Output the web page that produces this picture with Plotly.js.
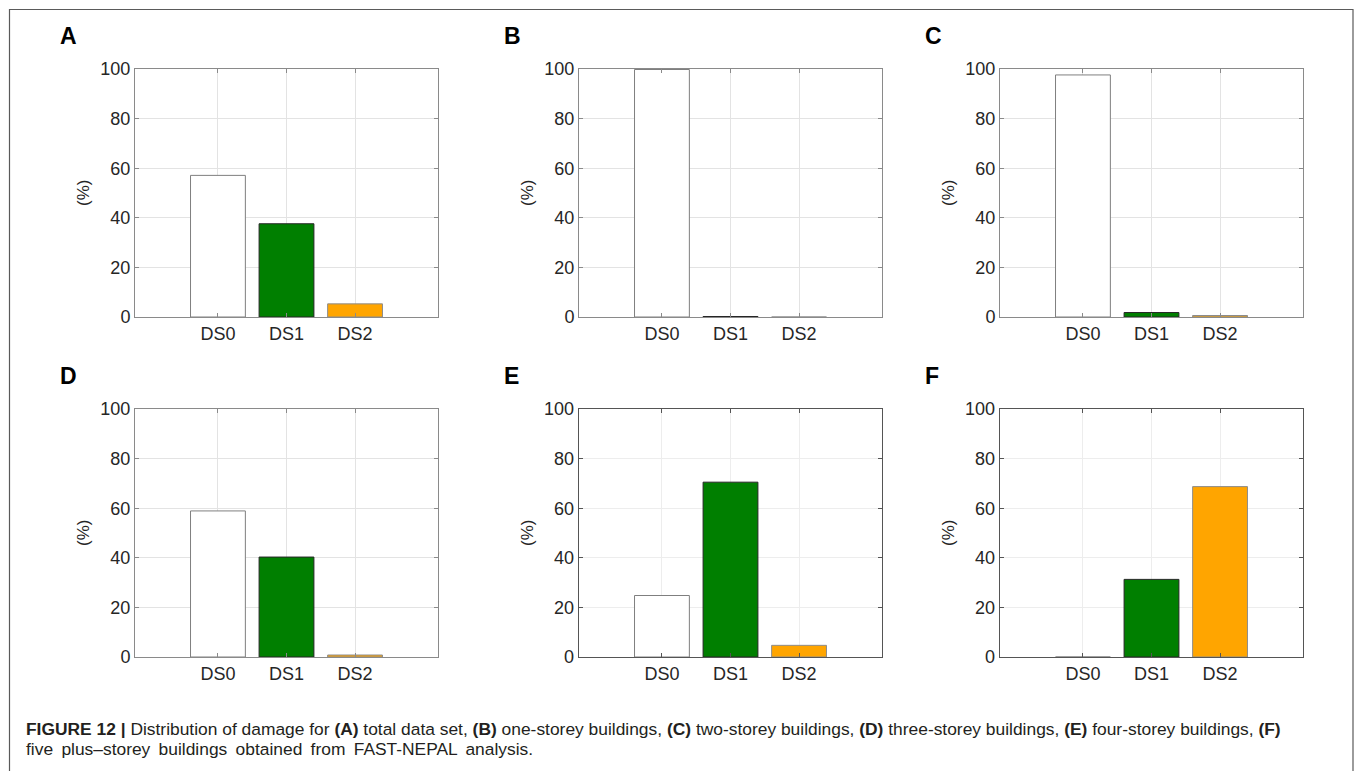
<!DOCTYPE html>
<html>
<head>
<meta charset="utf-8">
<script src="https://cdn.plot.ly/plotly-3.0.1.min.js"></script>
<style>
  html, body { margin: 0; padding: 0; background: #ffffff; }
  #chart { width: 1355px; height: 771px; }
</style>
</head>
<body>
<div id="chart"></div>
<script>
// Damage-state categories and share of buildings (%) per group
const categories = ['DS0', 'DS1', 'DS2'];
const panelLetters = ['A', 'B', 'C', 'D', 'E', 'F'];
const totalData      = [57.1, 37.6, 5.3];
const oneStorey      = [99.8, 0.2, 0.0];
const twoStorey      = [97.6, 1.8, 0.6];
const threeStorey    = [58.9, 40.3, 0.8];
const fourStorey     = [24.8, 70.5, 4.7];
const fivePlusStorey = [0.0, 31.3, 68.7];
const yTicks = [0, 20, 40, 60, 80, 100];
const yTitle = '(%)';

const panelValues = [totalData, oneStorey, twoStorey, threeStorey, fourStorey, fivePlusStorey];

// Styling
const barColors  = ['#ffffff', '#007f00', '#ffa500'];
const edgeColors = ['#7f7f7f', '#262626', '#8c8c8c'];
const W = 1355, H = 771;
const colLeft = [135, 579, 1000];
const rowTop = [69, 409];
const plotW = 303, plotH = 248;
const fontFamily = '"Liberation Sans", Arial, Helvetica, sans-serif';
const textColor = '#262626';

const px = x => x / W;
const py = y => 1 - y / H;

const traces = [];
const layout = {
  width: W, height: H,
  margin: { l: 0, r: 0, t: 0, b: 0 },
  paper_bgcolor: '#ffffff',
  plot_bgcolor: '#ffffff',
  showlegend: false,
  font: { family: fontFamily, color: textColor },
  annotations: [],
  shapes: [
    // outer figure frame (open at the bottom)
    { type: 'path', xref: 'paper', yref: 'paper',
      path: `M ${px(9.5)} ${py(780)} L ${px(9.5)} ${py(9.5)} L ${px(1353)} ${py(9.5)} L ${px(1353)} ${py(780)}`,
      line: { color: '#5a5a5a', width: 1.2 } }
  ]
};

panelValues.forEach((vals, i) => {
  const row = Math.floor(i / 3), col = i % 3;
  const n = i + 1;
  const xa = n === 1 ? 'x' : 'x' + n;
  const ya = n === 1 ? 'y' : 'y' + n;
  const darkFrame = row === 1 && col > 0;
  const frameColor = darkFrame ? '#555555' : '#8a8a8a';
  const gridColor = darkFrame ? '#ededed' : '#e3e3e3';

  traces.push({
    type: 'bar',
    x: categories,
    y: vals,
    xaxis: xa, yaxis: ya,
    width: 0.8,
    marker: { color: barColors, line: { color: edgeColors, width: 1 } },
    hoverinfo: 'x+y'
  });

  const x0 = colLeft[col], y0 = rowTop[row];
  layout['xaxis' + (n === 1 ? '' : n)] = {
    domain: [px(x0), px(x0 + plotW)],
    anchor: ya,
    type: 'category',
    categoryorder: 'array', categoryarray: categories,
    range: [-1.21, 3.21],
    showgrid: true, gridcolor: gridColor, gridwidth: 1,
    showline: true, linecolor: frameColor, linewidth: darkFrame ? 1.4 : 1,
    mirror: 'ticks', ticks: 'inside', ticklen: 4, tickcolor: frameColor,
    tickfont: { size: 18, color: textColor, family: fontFamily },
    fixedrange: true, zeroline: false
  };
  layout['yaxis' + (n === 1 ? '' : n)] = {
    domain: [py(y0 + plotH), py(y0)],
    anchor: xa,
    range: [0, 100],
    tickvals: yTicks,
    showgrid: true, gridcolor: gridColor, gridwidth: 1,
    showline: true, linecolor: frameColor, linewidth: darkFrame ? 1.4 : 1,
    mirror: 'ticks', ticks: 'inside', ticklen: 4, tickcolor: frameColor,
    tickfont: { size: 18, color: textColor, family: fontFamily },
    zeroline: false, fixedrange: true
  };

  // y axis title
  layout.annotations.push({
    xref: 'paper', yref: 'paper',
    x: px(x0 - 52), y: py(y0 + plotH / 2),
    text: yTitle, textangle: -90, showarrow: false,
    xanchor: 'center', yanchor: 'middle',
    font: { size: 17, color: textColor, family: fontFamily }
  });
  // panel letter
  layout.annotations.push({
    xref: 'paper', yref: 'paper',
    x: px(x0 - 77), y: py(y0 - 33),
    text: '<b>' + panelLetters[i] + '</b>', showarrow: false,
    xanchor: 'left', yanchor: 'middle',
    font: { size: 23, color: '#000000', family: fontFamily }
  });
});

// Figure caption (second line is set with wider word spacing)
const captionLine1 = '<b>FIGURE 12 |</b> Distribution of damage for <b>(A)</b> total data set, <b>(B)</b> one-storey buildings, <b>(C)</b> two-storey buildings, <b>(D)</b> three-storey buildings, <b>(E)</b> four-storey buildings, <b>(F)</b>';
const captionLine2 = 'five plus–storey buildings obtained from FAST-NEPAL analysis.'.split(' ').join(' \u2009');
[captionLine1, captionLine2].forEach((t, k) => {
  layout.annotations.push({
    xref: 'paper', yref: 'paper',
    x: px(24), y: py(729 + 20 * k),
    text: t, showarrow: false, xanchor: 'left', yanchor: 'middle',
    font: { size: 17.4, color: '#231f20', family: fontFamily }
  });
});

Plotly.newPlot('chart', traces, layout, { displayModeBar: false, staticPlot: true });
</script>
</body>
</html>
